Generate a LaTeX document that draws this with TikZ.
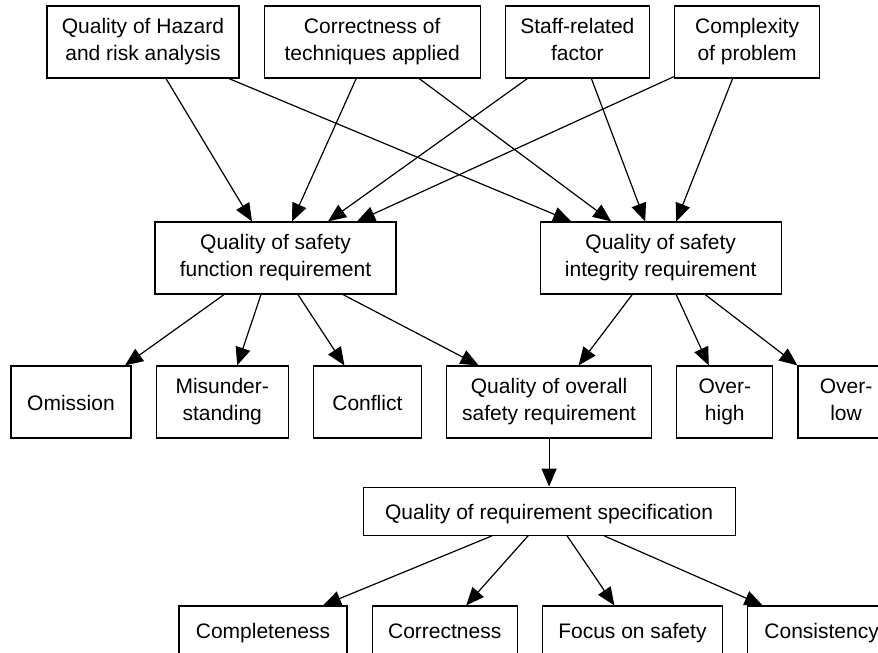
\documentclass[tikz,border=0pt]{standalone}
\usepackage{fontspec}
\setmainfont{Liberation Sans}
\usetikzlibrary{arrows.meta,positioning}

\begin{document}
\begin{tikzpicture}[x=1pt,y=-1pt,>={Triangle[length=18pt,width=15pt]},
    node distance=24pt,line width=1.2pt,
    box/.style={rectangle,draw,align=center,inner sep=0pt,minimum height=72pt,
      font=\fontsize{21}{26.5}\selectfont,
      execute at begin node=\rule{0pt}{22.1pt},
      execute at end node=\rule[-5pt]{0pt}{5pt}},
    flat box/.style={box,minimum height=48pt}]
    \useasboundingbox (0,0) rectangle (878,653);
    % influencing factors
    \node[box,minimum width=192pt] (hazard) at (143,42) {Quality of Hazard\\and risk analysis};
    \node[box,minimum width=216pt] (tech) [right=of hazard] {Correctness of\\techniques applied};
    \node[box,minimum width=144pt] (staff) [right=of tech] {Staff-related\\factor};
    \node[box,minimum width=145pt] (complex) [right=of staff] {Complexity\\of problem};
    % requirement qualities
    \node[box,minimum width=241pt] (sfr) at (275.5,258) {Quality of safety\\function requirement};
    \node[box,minimum width=241pt] (sir) [right=143pt of sfr] {Quality of safety\\integrity requirement};
    % failure modes
    \node[box,minimum width=120pt] (omission) at (71,402) {Omission};
    \node[box,minimum width=132pt] (misund) [right=of omission] {Misunder-\\standing};
    \node[box,minimum width=108pt] (conflict) [right=of misund] {Conflict};
    \node[box,minimum width=205pt] (overall) [right=of conflict] {Quality of overall\\safety requirement};
    \node[box,minimum width=96pt] (overhigh) [right=of overall] {Over-\\high};
    \node[box,minimum width=96pt] (overlow) [right=of overhigh] {Over-\\low};
    % specification
    \node[flat box,minimum width=372pt] (spec) [below=48pt of overall] {Quality of requirement specification};
    \node[flat box,minimum width=168pt] (complete) at (263,630) {Completeness};
    \node[flat box,minimum width=145pt] (correct) [right=of complete] {Correctness};
    \node[flat box,minimum width=180pt] (focus) [right=of correct] {Focus on safety};
    \node[flat box,minimum width=148pt] (consist) [right=of focus] {Consistency};
    \path[every edge/.style={draw,->}]
    ([xshift=23pt]hazard.south) edge ([xshift=-23.5pt]sfr.north)
    ([xshift=86pt]hazard.south) edge ([xshift=-89.5pt]sir.north)
    ([xshift=-16pt]tech.south) edge ([xshift=16.5pt]sfr.north)
    ([xshift=47pt]tech.south) edge ([xshift=-49.5pt]sir.north)
    ([xshift=-50pt]staff.south) edge ([xshift=52.5pt]sfr.north)
    ([xshift=14pt]staff.south) edge ([xshift=-15.5pt]sir.north)
    ([yshift=2pt]complex.south west) edge ([xshift=81.5pt]sfr.north)
    ([xshift=-14.5pt]complex.south) edge ([xshift=15.5pt]sir.north)
    ([xshift=-51.5pt]sfr.south) edge ([xshift=54pt]omission.north)
    ([xshift=-14.5pt]sfr.south) edge ([xshift=15pt]misund.north)
    ([xshift=22.5pt]sfr.south) edge ([xshift=-23pt]conflict.north)
    ([xshift=67.5pt]sfr.south) edge ([xshift=-70.5pt]overall.north)
    ([xshift=-28.5pt]sir.south) edge ([xshift=29.5pt]overall.north)
    ([xshift=15.5pt]sir.south) edge ([xshift=-16pt]overhigh.north)
    ([xshift=44.5pt]sir.south) edge (overlow.north west)
    (overall) edge (spec)
    ([xshift=-57pt]spec.south) edge ([xshift=60pt]complete.north)
    ([xshift=-21pt]spec.south) edge ([xshift=21.5pt]correct.north)
    ([xshift=18pt]spec.south) edge ([xshift=-18pt]focus.north)
    ([xshift=55pt]spec.south) edge ([xshift=-59pt]consist.north);
\end{tikzpicture}
\end{document}
